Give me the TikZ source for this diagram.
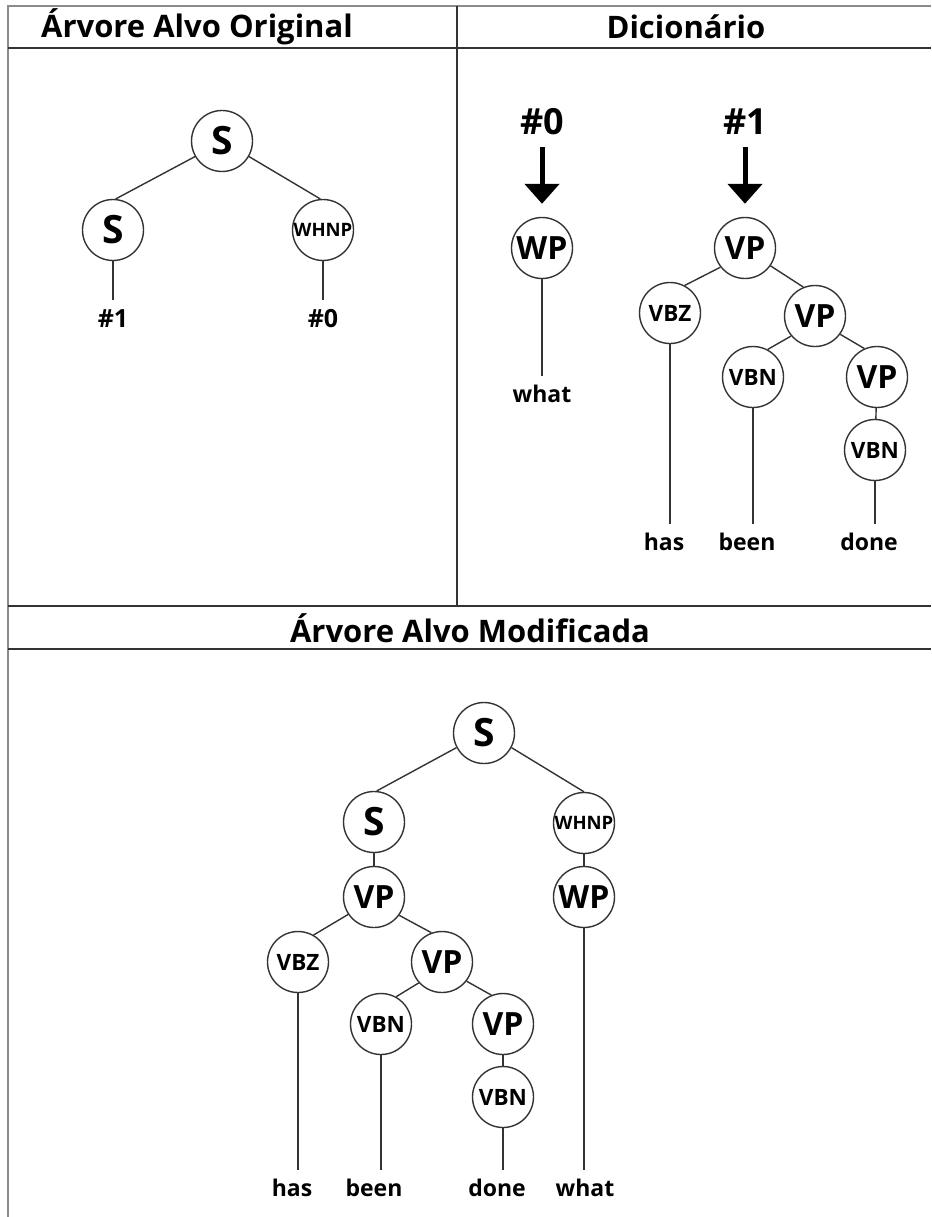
\documentclass[tikz,border=0pt]{standalone}
\usepackage{fontspec}
\setmainfont{Open Sans}
\usetikzlibrary{arrows.meta}

\begin{document}
\begin{tikzpicture}[x=1pt,y=-1pt]
  \tikzstyle{tag}=[circle,draw=black!80,line width=1.4pt,minimum size=61pt,inner sep=0pt]
  \tikzstyle{tagL}=[tag,font=\bfseries\fontsize{39}{39}\selectfont]
  \tikzstyle{tagM}=[tag,font=\bfseries\fontsize{32}{32}\selectfont]
  \tikzstyle{tagS}=[tag,font=\bfseries\fontsize{22.5}{22.5}\selectfont]
  \tikzstyle{tagXS}=[tag,font=\bfseries\fontsize{18.5}{18.5}\selectfont]
  \tikzstyle{leaf}=[inner xsep=0pt,inner ysep=9pt,font=\bfseries\fontsize{23}{23}\selectfont]
  \tikzstyle{slotname}=[inner sep=0pt,font=\bfseries\fontsize{25}{25}\selectfont]
  \tikzstyle{bigslot}=[inner sep=0pt,font=\bfseries\fontsize{36}{36}\selectfont]
  \tikzstyle{title}=[inner sep=0pt,font=\bfseries\fontsize{31}{31}\selectfont]
  \tikzstyle{edge}=[draw=black!80,line width=1.4pt]
  \tikzstyle{rule}=[draw=black!80,line width=2pt]
  \tikzstyle{plug}=[draw,line width=5pt,-{Triangle[width=34pt,length=20pt]},shorten <=12pt,shorten >=13pt]
  \useasboundingbox (0,0) rectangle (931,1217);
  % frame
  \draw[black!45,line width=1.5pt] (931,6) -- (8,6) -- (8,1217);
  \draw[rule] (8,48) -- (931,48);
  \draw[rule] (457,6) -- (457,606);
  \draw[rule] (8,606) -- (931,606);
  \draw[rule] (8,649) -- (931,649);
  \node[title] (torig) at (197,27)  {Árvore Alvo Original};
  \node[title] (tdict) at (686,27)  {Dicionário};
  \node[title] (tmod)  at (470,628) {Árvore Alvo Modificada};
  % original tree
  \node[tagL]  (oS)    at (222,141) {S};
  \node[tagL]  (oSl)   at (113,230) {S};
  \node[tagXS] (oWHNP) at (323,230) {WHNP};
  \node[slotname,inner ysep=10pt] (o1) at (113,319) {\#1};
  \node[slotname,inner ysep=10pt] (o0) at (323,319) {\#0};
  \draw[edge] (oS.210) -- (oSl.85);
  \draw[edge] (oS.330) -- (oWHNP.95);
  \draw[edge] (oSl) -- (o1);
  \draw[edge] (oWHNP) -- (o0);
  % dictionary
  \node[bigslot] (dH0) at (542,122) {\#0};
  \node[bigslot] (dH1) at (745,122) {\#1};
  \node[tagM] (dWP)   at (542,248) {WP};
  \node[tagM] (dVP)   at (745,248) {VP};
  \node[tagS] (dVBZ)  at (670,313) {VBZ};
  \node[tagM] (dVP2)  at (815,316) {VP};
  \node[tagS] (dVBN)  at (753,377) {VBN};
  \node[tagM] (dVP3)  at (877,377) {VP};
  \node[tagS] (dVBN2) at (875,450) {VBN};
  \node[leaf] (dWhat) at (542,394) {what};
  \node[leaf] (dHas)  at (664,542) {has};
  \node[leaf] (dBeen) at (747,542) {been};
  \node[leaf] (dDone) at (869,542) {done};
  \draw[plug] (dH0) -- (dWP);
  \draw[plug] (dH1) -- (dVP);
  \draw[edge] (dWP) -- (dWhat);
  \draw[edge] (dVP.218) -- (dVBZ.62);
  \draw[edge] (dVP.325) -- (dVP2.112);
  \draw[edge] (dVP2.220) -- (dVBN.62);
  \draw[edge] (dVP2.324) -- (dVP3.114);
  \draw[edge] (dVP3) -- (dVBN2);
  \draw[edge] (dVBZ.south) -- (dVBZ.south |- dHas.north);
  \draw[edge] (dVBN.south) -- (dVBN.south |- dBeen.north);
  \draw[edge] (dVBN2.south) -- (dVBN2.south |- dDone.north);
  % modified tree
  \node[tagL]  (mS)    at (484,733)  {S};
  \node[tagL]  (mSl)   at (374,822)  {S};
  \node[tagXS] (mWHNP) at (584,823)  {WHNP};
  \node[tagM]  (mVP)   at (374,897)  {VP};
  \node[tagM]  (mWP)   at (584,897)  {WP};
  \node[tagS]  (mVBZ)  at (298,962)  {VBZ};
  \node[tagM]  (mVP2)  at (442,962)  {VP};
  \node[tagS]  (mVBN)  at (381,1024) {VBN};
  \node[tagM]  (mVP3)  at (503,1024) {VP};
  \node[tagS]  (mVBN2) at (503,1097) {VBN};
  \node[leaf] (mHas)  at (292,1188) {has};
  \node[leaf] (mBeen) at (374,1188) {been};
  \node[leaf] (mDone) at (497,1188) {done};
  \node[leaf] (mWhat) at (585,1188) {what};
  \draw[edge] (mS.208) -- (mSl.85);
  \draw[edge] (mS.332) -- (mWHNP.90);
  \draw[edge] (mSl) -- (mVP);
  \draw[edge] (mWHNP) -- (mWP);
  \draw[edge] (mVP.214) -- (mVBZ.60);
  \draw[edge] (mVP.324) -- (mVP2.110);
  \draw[edge] (mVP2.222) -- (mVBN.61);
  \draw[edge] (mVP2.322) -- (mVP3.112);
  \draw[edge] (mVP3) -- (mVBN2);
  \draw[edge] (mVBZ.south) -- (mVBZ.south |- mHas.north);
  \draw[edge] (mVBN.south) -- (mVBN.south |- mBeen.north);
  \draw[edge] (mVBN2.south) -- (mVBN2.south |- mDone.north);
  \draw[edge] (mWP.south) -- (mWP.south |- mWhat.north);
\end{tikzpicture}
\end{document}
